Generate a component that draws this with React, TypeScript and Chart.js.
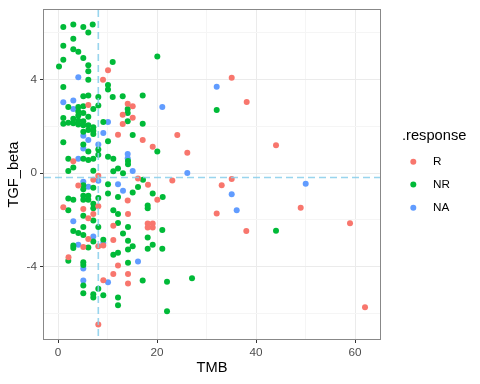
import React, { useEffect, useRef } from 'react';
import { Chart, registerables } from 'chart.js';

Chart.register(...registerables);

const FONT = '"Liberation Sans", Arial, Helvetica, sans-serif';

// Response groups
const groupNames = ['R', 'NR', 'NA'];
const groupColors = ['#F8766D', '#00BA38', '#619CFF'];

// R
const rTMB = [10.1, 9.09, 6.12, 14.08, 15.09, 13.07, 15.09, 13.07, 12.12, 17.11, 19.13, 3.09, 7.13, 8.14, 4.10, 16.16, 18.18, 20.06, 14.08, 1.07, 5.11, 8.14, 6.12, 7.13, 14.14, 11.17, 18.12, 19.13, 18.12, 19.13, 6.12, 11.17, 9.15, 8.14, 5.11, 2.12, 12.12, 11.17, 14.14, 14.14, 9.15, 8.14, 24.1, 26.12, 35.09, 38.12, 44.04, 23.09, 35.09, 33.07, 32.06, 49.03, 58.99, 38.04, 62.02];
const rTGF = [4.41, 4.00, 2.92, 2.97, 2.86, 2.50, 2.37, 2.11, 1.65, 1.42, 1.13, 0.51, -0.28, -0.11, -0.53, -0.22, -0.49, -1.13, -1.17, -1.45, -1.53, -1.41, -1.93, -1.74, -1.74, -2.25, -2.15, -2.15, -2.32, -2.32, -2.81, -2.86, -3.09, -3.12, -3.15, -3.59, -3.95, -4.31, -4.31, -4.72, -4.58, -6.47, 1.64, 0.88, 4.08, 3.05, 1.20, -0.31, -0.25, -0.51, -1.72, -1.48, -2.14, -2.47, -5.73];

// NR
const nrTMB = [1.07, 3.09, 5.11, 7.01, 6.12, 3.09, 1.07, 3.09, 4.10, 5.11, 1.07, 0.2, 6.12, 6.12, 6.12, 11.05, 20.06, 1.07, 10.1, 10.1, 5.11, 6.12, 8.14, 11.05, 13.07, 17.11, 2.08, 4.10, 5.11, 8.14, 14.08, 7.13, 4.10, 5.11, 4.10, 6.12, 14.08, 1.07, 3.09, 4.10, 5.11, 1.07, 2.08, 3.09, 4.10, 5.11, 6.12, 7.13, 6.12, 7.13, 9.15, 14.08, 17.11, 5.11, 7.13, 15.09, 1.07, 5.11, 10.1, 6.12, 8.14, 8.14, 20.06, 14.14, 14.14, 2.08, 5.11, 6.12, 7.13, 10.1, 11.17, 3.09, 2.08, 7.13, 11.17, 12.12, 13.13, 17.17, 5.11, 7.13, 5.11, 10.1, 16.16, 15.09, 10.1, 12.12, 19.13, 21.15, 2.08, 3.09, 5.11, 6.12, 5.11, 6.12, 8.14, 7.13, 2.08, 7.13, 11.17, 18.12, 18.12, 5.11, 7.13, 12.12, 5.11, 8.14, 12.12, 14.14, 21.07, 3.09, 4.10, 5.11, 7.13, 13.13, 18.12, 14.14, 3.09, 3.09, 6.12, 14.14, 15.09, 18.12, 19.13, 21.07, 12.12, 11.17, 2.08, 5.11, 5.11, 14.14, 5.11, 5.11, 17.11, 22.02, 27.07, 8.14, 7.13, 7.13, 9.15, 12.12, 12.12, 22.02, 32.06, 44.04, 9.15];
const nrTGF = [6.25, 6.36, 6.25, 6.36, 6.02, 5.75, 5.45, 5.30, 5.20, 4.93, 4.85, 4.56, 4.62, 4.36, 4.00, 4.76, 4.99, 3.69, 3.77, 3.58, 3.29, 3.32, 3.26, 3.26, 3.29, 3.32, 2.83, 2.83, 2.87, 2.90, 2.75, 2.75, 2.64, 2.58, 2.47, 2.42, 2.58, 2.36, 2.33, 2.25, 2.22, 2.12, 2.16, 2.14, 2.08, 2.05, 2.05, 1.97, 1.85, 1.82, 2.19, 2.22, 2.12, 1.77, 1.68, 1.63, 1.33, 1.23, 1.37, 0.93, 1.02, 0.79, 0.93, 0.52, 0.38, 0.62, 0.62, 0.57, 0.62, 0.71, 0.62, 0.25, 0.10, 0.11, 0.08, 0.20, 0.00, -0.28, -0.51, -0.62, -0.68, -0.47, -0.59, -0.82, -0.87, -1.02, -0.87, -1.02, -1.08, -1.13, -0.96, -0.96, -1.13, -1.13, -1.06, -1.30, -1.58, -1.50, -1.58, -1.38, -1.50, -1.82, -2.02, -1.74, -2.30, -2.30, -2.13, -2.30, -2.43, -2.47, -2.56, -2.64, -2.92, -2.58, -2.75, -2.89, -3.09, -3.20, -3.18, -3.26, -3.12, -3.23, -3.06, -3.23, -3.40, -3.49, -3.74, -3.81, -3.92, -3.83, -4.80, -5.13, -4.59, -4.64, -4.49, -4.94, -5.18, -5.31, -5.22, -5.31, -5.65, -5.90, 2.70, -2.46, -2.85];

// NA
const naTMB = [4.10, 1.07, 3.09, 3.09, 21.07, 10.1, 9.15, 5.11, 6.12, 8.14, 5.11, 14.08, 14.08, 4.10, 15.09, 5.11, 6.12, 8.14, 12.12, 13.13, 3.09, 7.13, 4.10, 9.15, 16.16, 5.11, 5.11, 10.1, 32.06, 26.12, 35.09, 36.1, 50.04];
const naTGF = [4.11, 3.04, 3.11, 2.75, 2.83, 2.19, 1.72, 1.60, 1.42, 1.23, 1.06, 0.82, 0.64, 0.62, 0.10, -0.36, -0.58, -0.32, -0.47, -0.75, -2.05, -2.71, -3.06, -2.98, -3.77, -4.07, -4.59, -4.66, 3.70, 0.01, -0.90, -1.58, -0.45];

// Reference (cut-off) lines
const TMB_CUT = 8.14;
const TGF_CUT = -0.18;

// Axis ticks
const xTicks = [0, 10, 20, 30, 40, 50, 60];
const xLabelTicks = [0, 20, 40, 60];
const yTicks = [-6, -4, -2, 0, 2, 4, 6];
const yLabelTicks = [-4, 0, 4];

const X_MIN = -2.83, X_MAX = 65.05, Y_MIN = -7.09, Y_MAX = 6.98;

const titleX = 'TMB';
const titleY = 'TGF_beta';
const legendTitle = '.response';

export default function App() {
  const ref = useRef<HTMLCanvasElement>(null);

  useEffect(() => {
    const toPts = (xs: number[], ys: number[]) => xs.map((x, i) => ({ x, y: ys[i] }));
    const series = [toPts(rTMB, rTGF), toPts(nrTMB, nrTGF), toPts(naTMB, naTGF)];

    const decor = {
      id: 'decor',
      afterDatasetsDraw(chart: any) {
        const { ctx, chartArea: a, scales } = chart;
        ctx.save();
        ctx.beginPath();
        ctx.rect(a.left, a.top, a.right - a.left, a.bottom - a.top);
        ctx.clip();
        ctx.strokeStyle = 'rgba(135,206,235,0.85)';
        ctx.lineWidth = 1.6;
        ctx.setLineDash([7, 4]);
        const vx = scales.x.getPixelForValue(TMB_CUT);
        const hy = scales.y.getPixelForValue(TGF_CUT);
        ctx.beginPath();
        ctx.moveTo(a.left, hy);
        ctx.lineTo(a.right, hy);
        ctx.stroke();
        ctx.beginPath();
        ctx.moveTo(vx, a.top);
        ctx.lineTo(vx, a.bottom);
        ctx.stroke();
        ctx.restore();

        ctx.save();
        ctx.strokeStyle = '#888888';
        ctx.lineWidth = 1;
        ctx.strokeRect(Math.round(a.left) - 0.5, Math.round(a.top) - 0.5, Math.round(a.right - a.left) + 1, Math.round(a.bottom - a.top) + 1);
        ctx.restore();
      },
      afterDraw(chart: any) {
        const { ctx, chartArea: a } = chart;
        ctx.save();
        ctx.fillStyle = '#000000';
        ctx.font = `14.67px ${FONT}`;
        ctx.textAlign = 'center';
        ctx.textBaseline = 'middle';
        ctx.fillText(titleX, (a.left + a.right) / 2, 368);
        ctx.save();
        ctx.translate(14, (a.top + a.bottom) / 2);
        ctx.rotate(-Math.PI / 2);
        ctx.fillText(titleY, 0, 0);
        ctx.restore();

        ctx.textAlign = 'left';
        ctx.fillText(legendTitle, 402, 136);
        const keyY = [161.7, 184.5, 207.7];
        ctx.font = `11.73px ${FONT}`;
        groupNames.forEach((name, i) => {
          ctx.fillStyle = groupColors[i];
          ctx.beginPath();
          ctx.arc(413.3, keyY[i], 3, 0, Math.PI * 2);
          ctx.fill();
          ctx.fillStyle = '#000000';
          ctx.fillText(name, 433, keyY[i]);
        });
        ctx.restore();
      },
    };

    const gridOpts = (isMajor: (v: number) => boolean) => ({
      color: (c: any) => (isMajor(c.tick.value) ? '#EBEBEB' : '#F5F5F5'),
      lineWidth: 1,
      drawTicks: true,
      tickLength: 4,
      tickWidth: 1,
      tickColor: (c: any) => (isMajor(c.tick.value) ? '#333333' : 'rgba(0,0,0,0)'),
    });

    const chart = new Chart(ref.current as HTMLCanvasElement, {
      type: 'scatter',
      data: {
        datasets: groupNames.map((name, i) => ({
          label: name,
          data: series[i],
          backgroundColor: groupColors[i],
          borderWidth: 0,
          pointRadius: 3,
          pointHoverRadius: 3,
        })),
      },
      options: {
        animation: false,
        responsive: false,
        devicePixelRatio: 1,
        layout: { padding: { left: 0, top: 7, right: 100, bottom: 0 } },
        plugins: { legend: { display: false }, tooltip: { enabled: false } },
        scales: {
          x: {
            type: 'linear',
            min: X_MIN,
            max: X_MAX,
            afterFit: (s: any) => { s.height = 45; },
            afterBuildTicks: (s: any) => { s.ticks = xTicks.map((v) => ({ value: v })); },
            grid: gridOpts((v) => xLabelTicks.includes(v)),
            border: { display: false },
            ticks: {
              autoSkip: false,
              maxRotation: 0,
              padding: 3,
              color: '#4D4D4D',
              font: { family: FONT, size: 11.73 },
              callback: (v: any) => (xLabelTicks.includes(Number(v)) ? String(v) : ''),
            },
          },
          y: {
            type: 'linear',
            min: Y_MIN,
            max: Y_MAX,
            afterFit: (s: any) => { s.width = 44; },
            afterBuildTicks: (s: any) => { s.ticks = yTicks.map((v) => ({ value: v })); },
            grid: gridOpts((v) => yLabelTicks.includes(v)),
            border: { display: false },
            ticks: {
              autoSkip: false,
              padding: 3,
              color: '#4D4D4D',
              font: { family: FONT, size: 11.73 },
              callback: (v: any) => (yLabelTicks.includes(Number(v)) ? String(v) : ''),
            },
          },
        },
      } as any,
      plugins: [decor],
    });
    return () => chart.destroy();
  }, []);

  return (
    <div style={{ position: 'absolute', left: 0, top: 0, width: 480, height: 384, background: '#ffffff' }}>
      <canvas ref={ref} width={480} height={384} style={{ display: 'block', width: 480, height: 384 }} />
    </div>
  );
}
